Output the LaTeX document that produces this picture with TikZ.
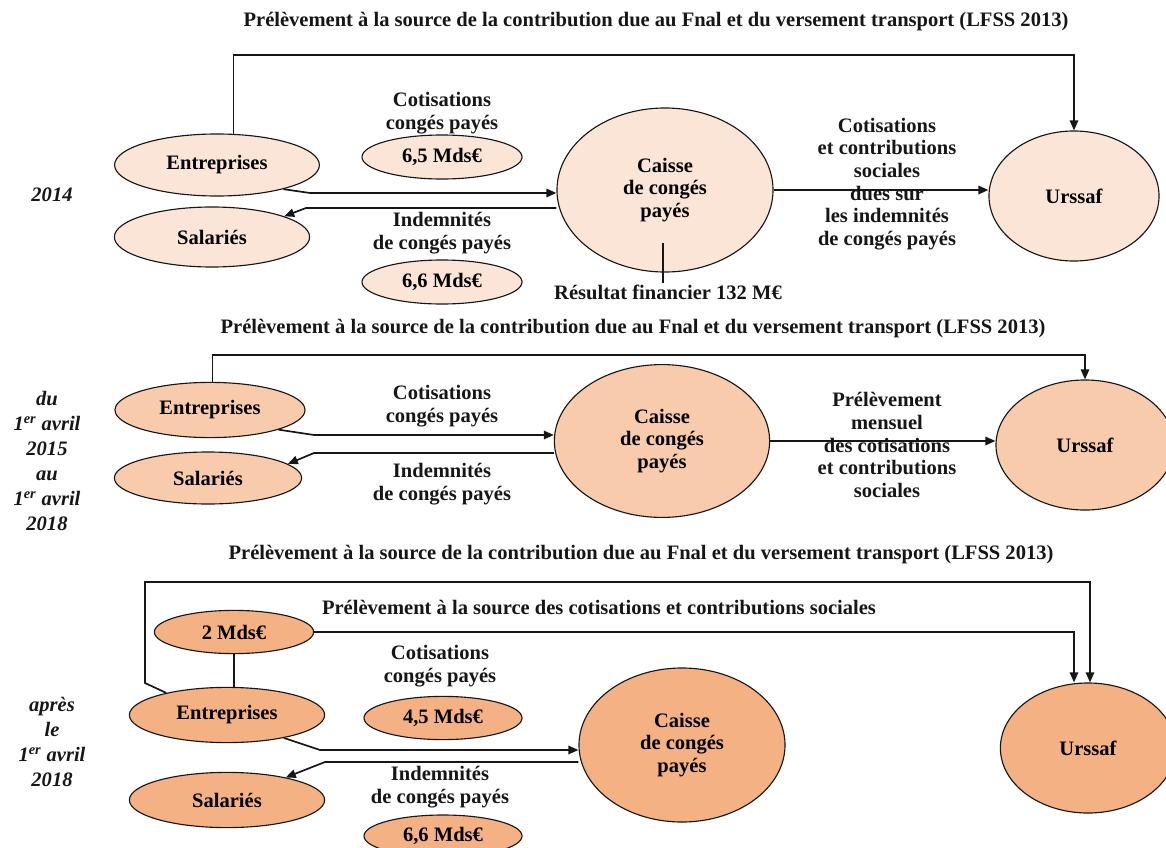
\documentclass[tikz,border=0pt]{standalone}
\usepackage{fontspec}
\setmainfont{Liberation Serif}
\usepackage{xcolor}
\usepackage{tikz}
\usetikzlibrary{calc,arrows.meta,shapes.geometric}
\definecolor{pale}{HTML}{FBE5D6}
\definecolor{peach}{HTML}{F8CBAD}
\definecolor{apricot}{HTML}{F4B183}
\definecolor{ink}{HTML}{161616}
\newcommand{\txtsize}{\fontsize{14.6}{16.1}\selectfont}
\newcommand{\persize}{\fontsize{14.6}{17.8}\selectfont}
\tikzset{
  oval/.style={ellipse, draw=ink, line width=0.8pt, inner sep=0pt, align=center, font=\bfseries\txtsize},
  lab/.style={text=ink, align=center, inner sep=1pt, font=\bfseries\txtsize},
  period/.style={text=ink, align=center, inner sep=1pt, font=\bfseries\itshape\persize},
  flow/.style={draw=ink, line width=1.2pt, -{Triangle[length=2.5mm,width=2.1mm]}},
  link/.style={draw=ink, line width=1.2pt},
}

\begin{document}
\begin{tikzpicture}[x=0.025cm, y=-0.025cm]
  \useasboundingbox (0,0) rectangle (1166,848);
  \clip (0,0) rectangle (1166,848);
  % titres
  \foreach \tx/\ty/\n in {656/22/1, 633/329/2, 641/555/3}
    \node[lab] (titre\n) at (\tx,\ty) {Prélèvement à la source de la contribution due au Fnal et du versement transport (LFSS 2013)};

  % --- 2014 ---
  \node[period] (an1) at (52,195) {2014};
  \node[oval, fill=pale, minimum width=5.12cm, minimum height=1.55cm] (ent1) at (217,165) {Entreprises};
  \node[oval, fill=pale, minimum width=4.88cm, minimum height=1.5cm] (sal1) at (212,237) {Salariés};
  \node[lab] (cot1) at (442,113) {Cotisations\\congés payés};
  \node[oval, fill=pale, minimum width=4cm, minimum height=1.1cm] (m65) at (442,157) {6,5 Mds€};
  \node[lab] (ind1) at (442,233) {Indemnités\\de congés payés};
  \node[oval, fill=pale, minimum width=4cm, minimum height=1.1cm] (m66a) at (442,282) {6,6 Mds€};
  \node[oval, fill=pale, minimum width=5.4cm, minimum height=4.1cm] (caisse1) at (665,190) {Caisse\\de congés\\payés};
  \node[oval, fill=pale, minimum width=4.25cm, minimum height=3.25cm] (urssaf1) at (1074,196) {Urssaf};
  \node[lab] (dues1) at (887,184) {Cotisations\\et contributions\\sociales\\dues sur\\les indemnités\\de congés payés};
  \node[lab] (res1) at (668,292) {Résultat financier 132 M€};
  \coordinate (t1) at (0,55);
  \coordinate (c1a) at (310,193);
  \coordinate (c1b) at (306,208);
  \coordinate (r1) at (663,243);
  \draw[flow] (ent1.62) |- (urssaf1.north |- t1) -- (urssaf1.north);
  \draw[flow] (ent1.-20) -- (c1a) -- (c1a -| caisse1.west);
  \draw[flow] (c1b -| caisse1.west) -- (c1b) -- (sal1.16);
  \draw[flow] (caisse1.east) -- (caisse1.east -| urssaf1.west);
  \draw[link] (r1) -- (r1 |- res1.north);

  % --- 2015-2018 ---
  \node[period] (an2) at (47,461) {du\\1\textsuperscript{er} avril\\2015\\au\\1\textsuperscript{er} avril\\2018};
  \node[oval, fill=peach, minimum width=4.75cm, minimum height=1.38cm] (ent2) at (210,410) {Entreprises};
  \node[oval, fill=peach, minimum width=4.68cm, minimum height=1.3cm] (sal2) at (208,478) {Salariés};
  \node[lab] (cot2) at (442,406) {Cotisations\\congés payés};
  \node[lab] (ind2) at (442,484) {Indemnités\\de congés payés};
  \node[oval, fill=peach, minimum width=5.38cm, minimum height=3.82cm] (caisse2) at (662,441) {Caisse\\de congés\\payés};
  \node[oval, fill=peach, minimum width=4.45cm, minimum height=3.25cm] (urssaf2) at (1085,445) {Urssaf};
  \node[lab] (mens2) at (887,445) {Prélèvement\\mensuel\\des cotisations\\et contributions\\sociales};
  \coordinate (t2) at (0,355);
  \coordinate (c2a) at (314,435);
  \coordinate (c2b) at (314,453);
  \draw[flow] (ent2.85) |- (urssaf2.north |- t2) -- (urssaf2.north);
  \draw[flow] (ent2.-16) -- (c2a) -- (c2a -| caisse2.west);
  \draw[flow] (c2b -| caisse2.west) -- (c2b) -- (sal2.10);
  \draw[flow] (caisse2.east) -- (caisse2.east -| urssaf2.west);

  % --- apres 2018 ---
  \node[period] (an3) at (52,742) {après\\le\\1\textsuperscript{er} avril\\2018};
  \node[oval, fill=apricot, minimum width=3.98cm, minimum height=1.08cm] (m2) at (234,632) {2 Mds€};
  \node[oval, fill=apricot, minimum width=4.88cm, minimum height=1.38cm] (ent3) at (227,715) {Entreprises};
  \node[oval, fill=apricot, minimum width=4.88cm, minimum height=1.38cm] (sal3) at (227,800) {Salariés};
  \node[lab] (cot3) at (440,666) {Cotisations\\congés payés};
  \node[oval, fill=apricot, minimum width=3.95cm, minimum height=1.08cm] (m45) at (443,718) {4,5 Mds€};
  \node[lab] (ind3) at (440,787) {Indemnités\\de congés payés};
  \node[oval, fill=apricot, minimum width=3.95cm, minimum height=1.05cm] (m66b) at (443,836) {6,6 Mds€};
  \node[oval, fill=apricot, minimum width=5.15cm, minimum height=3.85cm] (caisse3) at (682,745) {Caisse\\de congés\\payés};
  \node[oval, fill=apricot, minimum width=4.38cm, minimum height=3.25cm] (urssaf3) at (1088,748) {Urssaf};
  \node[lab] (src3) at (599,607) {Prélèvement à la source des cotisations et contributions sociales};
  \coordinate (o3a) at (145,683);
  \coordinate (o3b) at (1090,582);
  \coordinate (s3) at (1074,632);
  \coordinate (c3a) at (320,750);
  \coordinate (c3b) at (325,762);
  \draw[flow] (ent3.160) -- (o3a) |- (o3b) -- (o3b |- urssaf3.north);
  \draw[flow] (m2.east) -- (s3) -- (s3 |- urssaf3.north);
  \draw[link] (m2.south) -- (m2.south |- ent3.north);
  \draw[flow] (ent3.-22) -- (c3a) -- (c3a -| caisse3.west);
  \draw[flow] (c3b -| caisse3.west) -- (c3b) -- (sal3.21);
\end{tikzpicture}
\end{document}
